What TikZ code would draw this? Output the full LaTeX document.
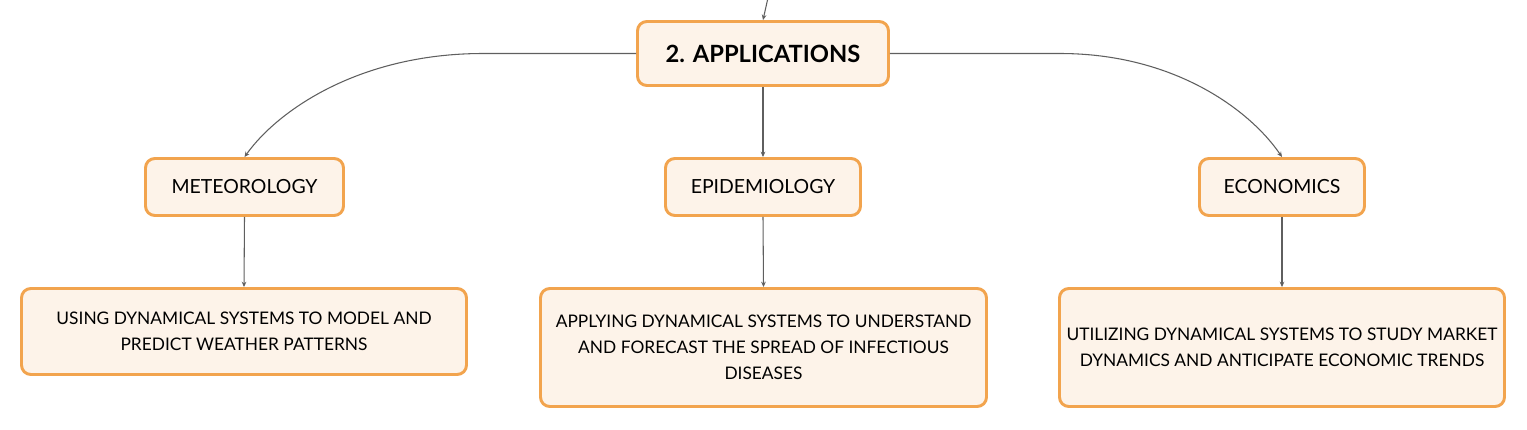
\documentclass[tikz,border=0pt]{standalone}
\usepackage{fontspec}
\setmainfont{Lato}
\usetikzlibrary{arrows.meta}
\definecolor{boxborder}{HTML}{F2A44E}
\definecolor{boxfill}{HTML}{FDF3E9}
\definecolor{linkgray}{HTML}{5F5F5F}
\begin{document}
\begin{tikzpicture}[x=0.75pt,y=-0.75pt,
  box/.style={draw=boxborder,fill=boxfill,line width=2.2pt,rounded corners=7pt,inner sep=0pt,align=center,
    font=\fontsize{13}{19.5}\selectfont},
  midbox/.style={box,font=\fontsize{14.6}{18}\selectfont},
  title/.style={box,font=\fontsize{17.8}{20}\selectfont\bfseries},
  link/.style={draw=linkgray,line width=0.8pt,-{Stealth[length=4pt,width=3.5pt]}}]
\useasboundingbox (0,0) rectangle (1527,429);
\node[title,minimum width=188.25pt,minimum height=48pt] (app) at (763,53.5) {2. APPLICATIONS};
\node[midbox,minimum width=148.5pt,minimum height=42.75pt] (met) at (244.5,187) {METEOROLOGY};
\node[midbox,minimum width=146.25pt,minimum height=42.75pt] (epi) at (763,187) {EPIDEMIOLOGY};
\node[midbox,minimum width=123.75pt,minimum height=42.75pt] (eco) at (1282,187) {ECONOMICS};
\node[box,minimum width=333.75pt,minimum height=64.5pt] (b1) at (244,331.5) {USING DYNAMICAL SYSTEMS TO MODEL AND\\PREDICT WEATHER PATTERNS};
\node[box,minimum width=334.5pt,minimum height=88.5pt] (b2) at (763.5,347.5) {APPLYING DYNAMICAL SYSTEMS TO UNDERSTAND\\AND FORECAST THE SPREAD OF INFECTIOUS\\DISEASES};
\node[box,minimum width=333.75pt,minimum height=88.5pt] (b3) at (1282,347.5) {UTILIZING DYNAMICAL SYSTEMS TO STUDY MARKET\\DYNAMICS AND ANTICIPATE ECONOMIC TRENDS};
\coordinate (top) at (767.5,0);
\draw[link] (top) -- (app.north);
\draw[link] (app.west) -- (483,53.5) .. controls (360,53.5) and (278,110) .. (met.north);
\draw[link] (app.east) -- (1060,53.5) .. controls (1174,53.5) and (1250,110) .. (eco.north);
\draw[link] (app.south) -- (epi.north);
\draw[link] (met.south) -- (b1.north);
\draw[link] (epi.south) -- (b2.north);
\draw[link] (eco.south) -- (b3.north);
\end{tikzpicture}
\end{document}
